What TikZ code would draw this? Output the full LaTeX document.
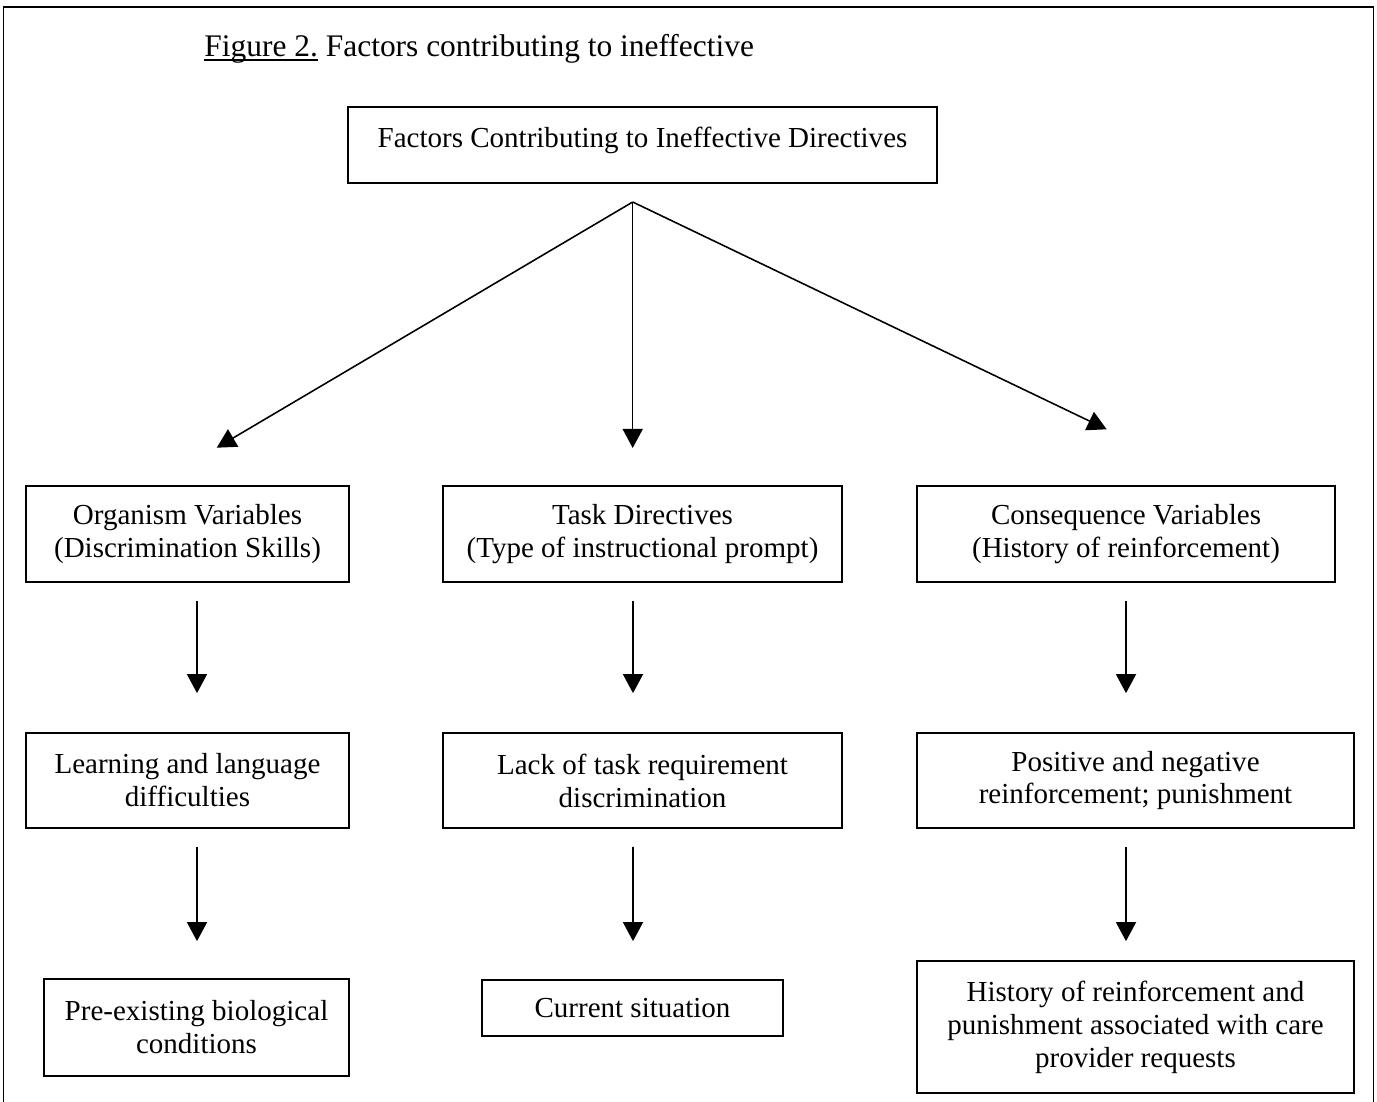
\documentclass[tikz,border=0pt]{standalone}
\usepackage{fontspec}
\setmainfont{Liberation Serif}
\usetikzlibrary{arrows.meta,calc}
\newcommand\wordul[1]{\setbox0\hbox{#1}\rlap{\rule[-1.5pt]{\wd0}{0.6pt}}\box0\relax}
\begin{document}
\begin{tikzpicture}[x=0.4135pt,y=-0.4135pt,
  box/.style={draw, line width=0.7pt, align=center, inner sep=0pt,
    font=\fontsize{12}{13.6}\selectfont},
  arr/.style={-{Triangle[length=7.9pt,width=8.3pt]}, line width=0.65pt},
  frame/.style={line width=0.8pt}]
\useasboundingbox (0,0) rectangle (1377,1102);
\draw[frame] (3.5,1115) -- (3.5,7) -- (1373.5,7) -- (1373.5,1115);

\node[anchor=base west, inner sep=0pt, font=\fontsize{13}{15}\selectfont] (title) at (204,57)
  {\wordul{Figure 2.} Factors contributing to ineffective};

\node[box, minimum width=589*0.4135pt, minimum height=76*0.4135pt,
  text height=8.5pt, text depth=6.5pt] (top) at (642.5,145)
  {Factors Contributing to Ineffective Directives};

\node[box, minimum width=323*0.4135pt, minimum height=96*0.4135pt] (o1) at (187.5,534)
  {Organism Variables\\(Discrimination Skills)};
\node[box, minimum width=399*0.4135pt, minimum height=96*0.4135pt] (t1) at (642.5,534)
  {Task Directives\\(Type of instructional prompt)};
\node[box, minimum width=418*0.4135pt, minimum height=96*0.4135pt] (c1) at (1126,534)
  {Consequence Variables\\(History of reinforcement)};

\node[box, minimum width=323*0.4135pt, minimum height=95*0.4135pt] (o2) at (187.5,780.5)
  {Learning and language\\difficulties};
\node[box, minimum width=399*0.4135pt, minimum height=95*0.4135pt] (t2) at (642.5,780.5)
  {Lack of task requirement\\discrimination};
\node[box, minimum width=437*0.4135pt, minimum height=95*0.4135pt] (c2) at (1135.5,780.5)
  {Positive and negative\\reinforcement; punishment};

\node[box, minimum width=305*0.4135pt, minimum height=97*0.4135pt] (o3) at (196.5,1027.5)
  {Pre-existing biological\\conditions};
\node[box, minimum width=301*0.4135pt, minimum height=56*0.4135pt] (t3) at (632.5,1008)
  {Current situation};
\node[box, minimum width=437*0.4135pt, minimum height=132*0.4135pt] (c3) at (1135.5,1027)
  {History of reinforcement and\\punishment associated with care\\provider requests};

% split point and tips of the three arrows from the top box
\coordinate (split) at (632.7,202);
\coordinate (tipO) at (216.7,447.7);
\coordinate (tipT) at (632.7,448);
\coordinate (tipC) at (1106.7,429.3);
\draw[arr] (split) -- (tipO);
\draw[arr] (split) -- (tipT);
\draw[arr] (split) -- (tipC);

% column arrows
\draw[arr] ($(o1.south)+(9.5,18)$) -- ($(o2.north)+(9.5,-39)$);
\draw[arr] ($(t1.south)+(-9.5,18)$) -- ($(t2.north)+(-9.5,-39)$);
\draw[arr] ($(c1.south)+(0,18)$) -- ($(c2.north)+(-9.5,-39)$);

\draw[arr] ($(o2.south)+(9.5,18)$) -- ($(o3.north)+(0.5,-37)$);
\draw[arr] ($(t2.south)+(-9.5,18)$) -- ($(t3.north)+(0.5,-38)$);
\draw[arr] ($(c2.south)+(-9.5,18)$) -- ($(c3.north)+(-9.5,-19)$);
\end{tikzpicture}
\end{document}
